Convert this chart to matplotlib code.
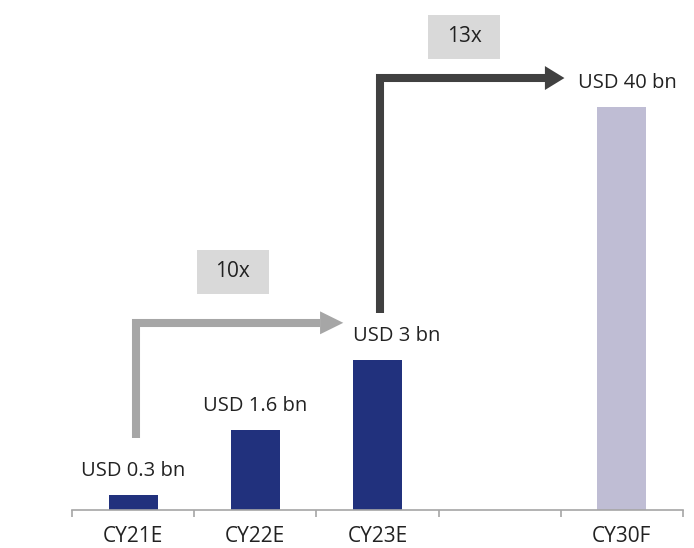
import numpy as np
import matplotlib
matplotlib.use("Agg")
import matplotlib.pyplot as plt
from matplotlib.patches import Rectangle, Polygon
import matplotlib.transforms as mtransforms

plt.rcParams['font.family'] = ['Open Sans', 'DejaVu Sans']

# Market size by year (USD bn)
categories = ['CY21E', 'CY22E', 'CY23E', '', 'CY30F']
values = [0.3, 1.6, 3.0, np.nan, 40.0]
labels = ['USD 0.3 bn', 'USD 1.6 bn', 'USD 3 bn', '', 'USD 40 bn']
colors = ['#21317d', '#21317d', '#21317d', 'none', '#bfbdd4']
growth = ['10x', '13x']

# y axis is linear up to 3, compressed above so the CY30F bar fits
BREAK = 3.0
SQUEEZE = 0.1368


def forward(v):
    v = np.asarray(v, dtype=float)
    return np.where(v <= BREAK, v, BREAK + (v - BREAK) * SQUEEZE)


def inverse(t):
    t = np.asarray(t, dtype=float)
    return np.where(t <= BREAK, t, BREAK + (t - BREAK) / SQUEEZE)


fig = plt.figure(figsize=(6.94, 5.48), dpi=100)
ax = fig.add_axes([72 / 694, 38 / 548, 611 / 694, 510 / 548])
ax.set_yscale('function', functions=(forward, inverse))

x = np.arange(len(categories))
ax.bar(x, values, width=0.4, color=colors)
ax.set_xlim(-0.5, len(categories) - 0.5)
ax.set_ylim(0, float(inverse(10.2)))

text_color = '#222222'
label_shift = [0, 0, 14, 0, 4]
for xi, v, lab, dx in zip(x, values, labels, label_shift):
    if lab:
        ax.annotate(lab, (xi, v), xytext=(dx, 17.5), textcoords='offset points',
                    ha='center', va='center', fontsize=14.5, color=text_color)

# axis styling
for side in ['left', 'right', 'top']:
    ax.spines[side].set_visible(False)
ax.spines['bottom'].set_color('#a6a6a6')
ax.spines['bottom'].set_linewidth(1.2)
ax.set_yticks([])
ax.set_xticks(x)
ax.set_xticklabels(categories, fontsize=15, color=text_color)
ax.tick_params(axis='x', which='major', length=0, pad=11.5)
ax.set_xticks(np.arange(-0.5, len(categories)), minor=True)
ax.tick_params(axis='x', which='minor', length=5, width=1.2, color='#a6a6a6')

# growth arrows: x in data units, y in axes fraction
trans = mtransforms.blended_transform_factory(ax.transData, ax.transAxes)


def elbow_arrow(x0, y0, y1, xbase, xtip, half, color):
    ax.plot([x0, x0, xbase], [y0, y1, y1], color=color, lw=5.8,
            solid_joinstyle='miter', solid_capstyle='butt', transform=trans,
            clip_on=False)
    ax.add_patch(Polygon([[xbase, y1 - half], [xtip, y1], [xbase, y1 + half]],
                         closed=True, color=color, transform=trans, clip_on=False, lw=0))


elbow_arrow(0.02, 0.141, 0.367, 1.53, 1.72, 0.0225, '#a6a6a6')
elbow_arrow(2.02, 0.386, 0.847, 3.37, 3.53, 0.0235, '#404040')


def growth_box(xc, yc, text):
    w, h = 0.59, 0.086
    ax.add_patch(Rectangle((xc - w / 2, yc - h / 2), w, h, facecolor='#d9d9d9',
                           edgecolor='none', transform=trans, clip_on=False))
    ax.text(xc, yc, text, ha='center', va='center', fontsize=15,
            color=text_color, transform=trans)


growth_box(0.817, 0.467, growth[0])
growth_box(2.708, 0.928, growth[1])

fig.savefig('out.png', dpi=100)
